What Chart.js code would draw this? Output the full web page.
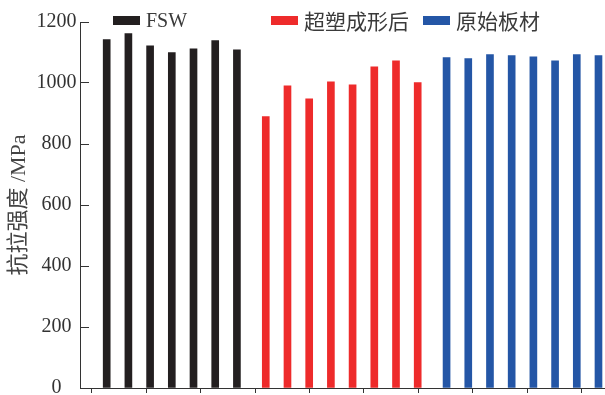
<!DOCTYPE html>
<html>
<head>
<meta charset="utf-8">
<script src="https://cdn.jsdelivr.net/npm/chart.js@4"></script>
<style>
  body { margin: 0; background: #fff; }
  #wrap { position: relative; width: 605px; height: 395px; }
  #legend { position: absolute; top: 0; left: 0; width: 605px; height: 40px; }
  .item { position: absolute; top: 7px; height: 26px; display: flex; align-items: center; }
  .box { width: 27px; height: 9px; margin-right: 6px; }
  .item span { font-size: 20px; color: #3a3a3a; font-family: "Liberation Serif", "Noto Sans CJK SC", serif; }
  .item span.cjk { font-size: 21px; font-family: "Noto Sans CJK SC", sans-serif; }
</style>
</head>
<body>
<div id="wrap">
  <canvas id="chart" width="605" height="395"></canvas>
  <div id="legend"></div>
</div>
<script>
// --- Tensile strength per specimen ---
const seriesNames = ["FSW", "超塑成形后", "原始板材"];
const seriesColors = ["#231f20", "#ee2b2b", "#2456a6"];
const fswValues = [1142, 1162, 1122, 1100, 1112, 1139, 1109];
const spfValues = [890, 991, 948, 1004, 994, 1053, 1073, 1001];
const baseValues = [1083, 1080, 1093, 1090, 1086, 1073, 1093, 1090];
const yTicks = [0, 200, 400, 600, 800, 1000, 1200];
const yTitle = "抗拉强度 /MPa";

// each group sits right after the previous one with a small extra gap
const groupGap = 0.33;
const groups = [fswValues, spfValues, baseValues];
let start = 0;
const datasets = groups.map((vals, g) => {
  const offset = start + g * groupGap;
  start += vals.length;
  return {
    label: seriesNames[g],
    data: vals.map((v, i) => ({ x: offset + i, y: v })),
    backgroundColor: seriesColors[g],
    barThickness: 7,
    grouped: false
  };
});

// legend drawn as html so the items can be spaced freely
const legendLeft = [113, 271, 423];
const legend = document.getElementById("legend");
seriesNames.forEach((name, i) => {
  const item = document.createElement("div");
  item.className = "item";
  item.style.left = legendLeft[i] + "px";
  item.innerHTML = '<div class="box" style="background:' + seriesColors[i] + '"></div>' +
    '<span class="' + (i > 0 ? "cjk" : "") + '">' + name + "</span>";
  legend.appendChild(item);
});

const axisColor = "#333";
const tickFont = { family: "'Liberation Serif', serif", size: 20 };

new Chart(document.getElementById("chart").getContext("2d"), {
  type: "bar",
  data: { datasets: datasets },
  options: {
    responsive: false,
    animation: false,
    layout: { padding: { top: 22, left: 0, right: 0, bottom: 0 } },
    plugins: { legend: { display: false }, tooltip: { enabled: false } },
    scales: {
      x: {
        type: "linear",
        min: -1.23,
        max: 22.96,
        offset: false,
        afterFit: s => { s.height = 7; },
        afterBuildTicks: s => {
          const t = [];
          for (let k = 0; k < 10; k++) t.push({ value: -0.68 + k * 2.507 });
          s.ticks = t;
        },
        ticks: { display: false },
        grid: { drawOnChartArea: false, offset: false, tickLength: 5, color: axisColor },
        border: { display: true, color: axisColor, width: 1 }
      },
      y: {
        min: 0,
        max: 1200,
        afterFit: s => {
          s.width = 80;
          // labels may hang over the canvas edge, no extra room needed
          s.paddingTop = 0;
          s.paddingBottom = 0;
        },
        afterBuildTicks: s => { s.ticks = yTicks.map(v => ({ value: v })); },
        ticks: {
          font: tickFont,
          color: "#333",
          padding: 12.5,
          crossAlign: "center",
          callback: v => String(v)
        },
        grid: { drawOnChartArea: false, tickLength: -9, color: axisColor },
        border: { display: true, color: axisColor, width: 1 },
        title: {
          display: true,
          text: yTitle,
          color: "#444",
          font: { family: "'Liberation Serif', 'Noto Sans CJK SC', serif", size: 22 },
          padding: { top: 6, bottom: 0 }
        }
      }
    }
  }
});
</script>
</body>
</html>
